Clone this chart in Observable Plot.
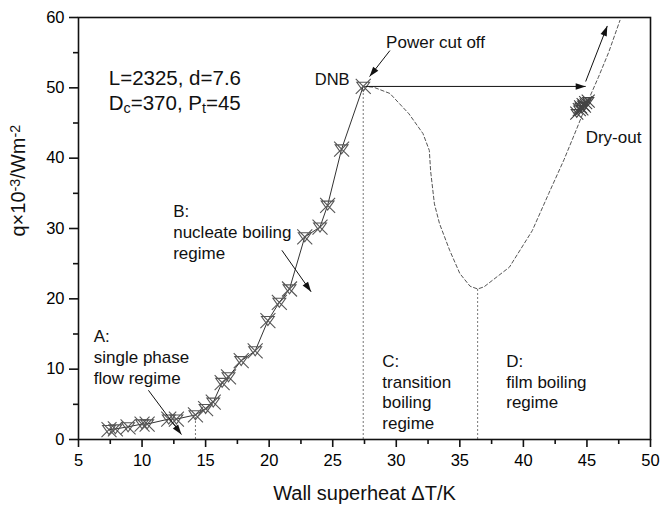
<!DOCTYPE html>
<html>
<head>
<meta charset="utf-8">
<script src="https://cdn.jsdelivr.net/npm/d3@7"></script>
<script src="https://cdn.jsdelivr.net/npm/@observablehq/plot@0.6"></script>
<style>
  html, body { margin: 0; padding: 0; background: #fff; }
  #chart { width: 661px; height: 505px; }
</style>
</head>
<body>
<div id="chart"></div>
<script>
// Experimental points (wall superheat K, heat flux q×10^-3 W/m^2)
const expX = [7.4, 7.9, 8.9, 10.0, 10.4, 12.1, 12.7, 14.2, 15.0, 15.6, 16.3, 16.8, 17.8, 18.9, 19.9, 20.8, 21.6, 22.8, 24.0, 24.6, 25.7, 27.4];
const expY = [1.4, 1.5, 1.8, 2.2, 2.2, 2.9, 2.9, 3.5, 4.4, 5.3, 8.1, 8.9, 11.2, 12.6, 16.9, 19.5, 21.4, 28.8, 30.2, 33.3, 41.3, 50.2];

// Dry-out cluster
const dryX = [44.2, 44.4, 44.5, 44.6, 44.7, 44.8, 44.9, 45.1];
const dryY = [46.4, 46.9, 47.3, 47.0, 47.6, 47.4, 47.9, 48.1];

// Estimated boiling curve (dashed)
const curveX = [27.4, 28.2, 29.5, 31.0, 32.1, 32.6, 32.7, 33.0, 33.4, 34.2, 35.0, 35.8, 36.4, 36.9, 38.9, 40.7, 42.0, 43.2, 44.2, 45.0, 45.9, 46.7, 47.6];
const curveY = [50.2, 50.1, 49.2, 46.3, 43.5, 41.1, 38.2, 33.5, 30.7, 26.9, 23.6, 21.8, 21.4, 21.7, 24.5, 29.7, 35.0, 39.8, 44.2, 47.8, 51.5, 55.0, 59.6];

// Regime boundaries (vertical dotted lines)
const boundX = [14.2, 27.4, 36.4];
const boundTop = [3.5, 50.2, 21.4];

// Arrows
const arrX1 = [29.5, 27.6, 44.9, 21.0, 10.5];
const arrY1 = [55.3, 50.2, 50.9, 26.9, 7.0];
const arrX2 = [27.9, 44.9, 46.6, 23.3, 13.1];
const arrY2 = [51.6, 50.2, 58.8, 21.0, 0.7];

// Annotation texts (anchored at data coordinates)
const labelText = ["A:\nsingle phase\nflow regime", "B:\nnucleate boiling\nregime", "C:\ntransition\nboiling\nregime", "D:\nfilm boiling\nregime", "Power cut off", "Dry-out"];
const labelX = [6.2, 12.45, 28.9, 38.65, 29.2, 44.9];
const labelY = [15.9, 33.7, 12.4, 12.4, 57.7, 44.2];

// Axis ticks
const xTicks = [5, 10, 15, 20, 25, 30, 35, 40, 45, 50];
const xMinor = [7.5, 12.5, 17.5, 22.5, 27.5, 32.5, 37.5, 42.5, 47.5];
const yTicks = [0, 10, 20, 30, 40, 50, 60];
const yMinor = [5, 15, 25, 35, 45, 55];

const exp = expX.map((x, i) => ({x, y: expY[i]}));
const dry = dryX.map((x, i) => ({x, y: dryY[i]}));
const curve = curveX.map((x, i) => ({x, y: curveY[i]}));
const bounds = boundX.map((x, i) => ({x, top: boundTop[i]}));
const arrows = arrX1.map((x1, i) => ({x1, y1: arrY1[i], x2: arrX2[i], y2: arrY2[i]}));
const labels = labelText.map((t, i) => ({t, x: labelX[i], y: labelY[i]}));

// Marker: X with a downward triangle
const markerSymbol = {
  draw(ctx, size) {
    const r = Math.sqrt(size / Math.PI);
    ctx.moveTo(-r, -r); ctx.lineTo(r, r);
    ctx.moveTo(-r, r); ctx.lineTo(r, -r);
    ctx.moveTo(-0.85 * r, -0.55 * r); ctx.lineTo(0.85 * r, -0.55 * r); ctx.lineTo(0, 0.65 * r); ctx.closePath();
  }
};

const plot = Plot.plot({
  width: 661,
  height: 505,
  marginLeft: 78,
  marginRight: 11,
  marginTop: 17,
  marginBottom: 66,
  style: {fontFamily: "'Liberation Sans', Arial, sans-serif", fontSize: "16px", color: "black", background: "white"},
  x: {domain: [5, 50], label: null},
  y: {domain: [0, 60], label: null},
  marks: [
    Plot.ruleX(bounds, {x: "x", y1: 0, y2: "top", stroke: "#777", strokeWidth: 1, strokeDasharray: "2,2"}),
    Plot.line(curve, {x: "x", y: "y", stroke: "#555", strokeWidth: 1, strokeDasharray: "3.5,2.5"}),
    Plot.line(exp, {x: "x", y: "y", stroke: "#333", strokeWidth: 1}),
    Plot.dot(exp, {x: "x", y: "y", r: 7.5, symbol: markerSymbol, stroke: "#555", strokeWidth: 1.1, fill: "none"}),
    Plot.dot(dry, {x: "x", y: "y", r: 6.5, symbol: markerSymbol, stroke: "#444", strokeWidth: 1.1, fill: "none"}),
    Plot.link(arrows, {x1: "x1", y1: "y1", x2: "x2", y2: "y2", stroke: "#111", strokeWidth: 1, markerEnd: "arrow"}),
    Plot.text(labels, {x: "x", y: "y", text: "t", textAnchor: "start", lineAnchor: "top", lineHeight: 1.22, fontSize: 17, fill: "#111"}),
    Plot.text(["DNB"], {x: 26.33, y: 52.0, textAnchor: "end", lineAnchor: "top", fontSize: 16.5, fill: "#111"}),
    Plot.text(["L=2325, d=7.6"], {x: 7.38, y: 52.5, textAnchor: "start", lineAnchor: "top", fontSize: 20.5, fill: "#111"}),
    Plot.text(["Dc=370, Pt=45"], {x: 7.38, y: 48.9, textAnchor: "start", lineAnchor: "top", fontSize: 20.5, fill: "#111"}),
    Plot.frame({stroke: "#111", strokeWidth: 1.6}),
    Plot.axisX({ticks: xTicks, tickSize: 8, tickPadding: 7, fontSize: 16.5, tickFormat: d => String(d), stroke: "#111", strokeWidth: 1.6}),
    Plot.axisX({ticks: xMinor, tickSize: 5, tickFormat: () => "", stroke: "#111", strokeWidth: 1.6}),
    Plot.axisY({ticks: yTicks, tickSize: 9, tickPadding: 5, fontSize: 16.5, tickFormat: d => String(d), stroke: "#111", strokeWidth: 1.6}),
    Plot.axisY({ticks: yMinor, tickSize: 5, tickFormat: () => "", stroke: "#111", strokeWidth: 1.6}),
    Plot.text(["Wall superheat \u0394T/K"], {frameAnchor: "bottom", dy: 54, lineAnchor: "middle", fontSize: 20, fill: "#111"}),
    Plot.text(["q\u00d710-3/Wm-2"], {frameAnchor: "left", dx: -60, dy: 8, rotate: -90, lineAnchor: "middle", fontSize: 20, fill: "#111"})
  ]
});

// Rich text: subscripts / superscripts
function richText(svg, plain, parts) {
  d3.select(svg).selectAll("text").filter(function() { return this.textContent === plain; }).each(function() {
    const t = d3.select(this);
    t.text(null);
    parts.forEach(([s, kind]) => {
      const sp = t.append("tspan").text(s);
      if (kind === "sub") sp.attr("baseline-shift", "-22%").attr("font-size", "70%");
      if (kind === "sup") sp.attr("baseline-shift", "38%").attr("font-size", "72%");
    });
  });
}
richText(plot, "Dc=370, Pt=45", [["D"], ["c", "sub"], ["=370, P"], ["t", "sub"], ["=45"]]);
richText(plot, "q\u00d710-3/Wm-2", [["q\u00d710"], ["-3", "sup"], ["/Wm"], ["-2", "sup"]]);

// Filled triangular arrowheads
d3.select(plot).selectAll("marker")
  .attr("viewBox", "-11 -5 12 10")
  .attr("markerWidth", 12)
  .attr("markerHeight", 10)
  .attr("markerUnits", "userSpaceOnUse")
  .attr("fill", "#111")
  .attr("stroke", "none")
  .selectAll("path").attr("d", "M-10,-3.3L0,0L-10,3.3Z");

document.getElementById("chart").appendChild(plot);
</script>
</body>
</html>
